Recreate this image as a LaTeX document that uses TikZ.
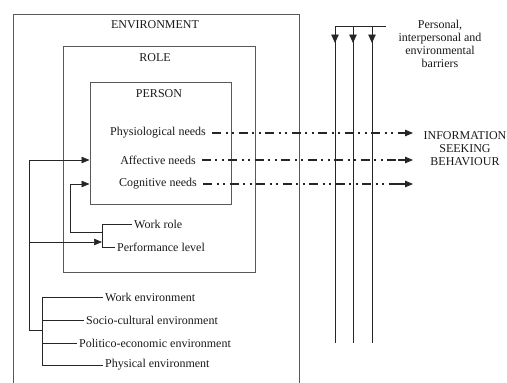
\documentclass[tikz,border=0pt]{standalone}
\usepackage{fontspec}
\setmainfont{Liberation Serif}
\usetikzlibrary{arrows.meta}
\begin{document}
\begin{tikzpicture}[x=1pt,y=-1pt,
  font=\fontsize{12}{13}\selectfont,
  ln/.style={draw=black!85, line width=0.7pt},
  box/.style={draw=black!65, line width=1pt},
  lbl/.style={inner sep=0pt, text=black!90},
  blbl/.style={inner sep=2pt, anchor=west, text=black!90},
  tip/.style={-{Triangle[length=8pt,width=6.5pt]}},
  btip/.style={-{Triangle[length=8.5pt,width=7.5pt]}},
  dd/.style={draw=black!85, line width=1.1pt, dash pattern=on 9pt off 4.5pt on 2pt off 4.5pt on 2pt off 4.5pt}]
\useasboundingbox (0,0) rectangle (507,383);

% boxes
\draw[box] (13,383) -- (13,14) -- (299,14) -- (299,383);
\node[box, minimum width=192pt, minimum height=226pt, inner sep=0pt] (rolebox) at (159,159) {};
\node[box, minimum width=141pt, minimum height=122pt, inner sep=0pt] (personbox) at (160.5,143) {};

% titles
\node[lbl] (env) at (155,25) {ENVIRONMENT};
\node[lbl] (role) at (155,58) {ROLE};
\node[lbl] (person) at (159,94) {PERSON};

% needs
\node[lbl] (phys) at (158,133) {Physiological needs};
\node[lbl] (aff) at (158,160) {Affective needs};
\node[lbl] (cog) at (158,184) {Cognitive needs};

% information seeking behaviour
\node[lbl, align=center] (isb) at (465,149) {INFORMATION\\SEEKING\\BEHAVIOUR};
\coordinate (isbx) at (413,0);

% barriers
\node[lbl, align=center] (bar) at (440,44) {Personal,\\interpersonal and\\environmental\\barriers};
\coordinate (bh) at (386,26);
\coordinate (b1) at (335,26);
\coordinate (b2) at (353,26);
\coordinate (b3) at (372,26);
\coordinate (b1e) at (335,343);
\coordinate (b2e) at (353,343);
\coordinate (b3e) at (372,343);
\draw[ln] (bh) -- (b1);
\foreach \b in {1,2,3}{
  \draw[ln] (b\b) -- (b\b e);
  \draw[ln, btip] (b\b) -- ([yshift=-17pt]b\b);
}

% dash-dot-dot lines
\foreach \n in {phys,aff,cog}{
  \draw[dd] ([xshift=6pt]\n.east) -- ([xshift=-14pt]\n.east -| isbx);
  \draw[ln, line width=1.1pt, tip] ([xshift=-15pt]\n.east -| isbx) -- (\n.east -| isbx);
}

% role factors
\node[blbl] (wr) at (132,224) {Work role};
\node[blbl] (pl) at (115,247) {Performance level};
\draw[ln] (wr.west) -- (102,224) -- (102,247) -- (pl.west);

% environment factors
\node[blbl] (we) at (103,297) {Work environment};
\node[blbl] (se) at (84,320) {Socio-cultural environment};
\node[blbl] (pol) at (77,343) {Politico-economic environment};
\node[blbl] (pe) at (103,365) {Physical environment};
\draw[ln] (we.west) -- (42,297) -- (42,365) -- (pe.west);
\draw[ln] (se.west) -- (42,320);
\draw[ln] (pol.west) -- (42,343);

% feedback connectors
\coordinate (j1) at (29,160);
\coordinate (j2) at (70,184);
\draw[ln, tip] (j1) -- (j1 -| personbox.west);
\draw[ln] (j1) -- (29,330) -- (42,330);
\draw[ln, tip] (29,242) -- (102,242);
\draw[ln, tip] (70,232) -- (j2) -- (j2 -| personbox.west);
\draw[ln] (70,232) -- (102,232);
\end{tikzpicture}
\end{document}
